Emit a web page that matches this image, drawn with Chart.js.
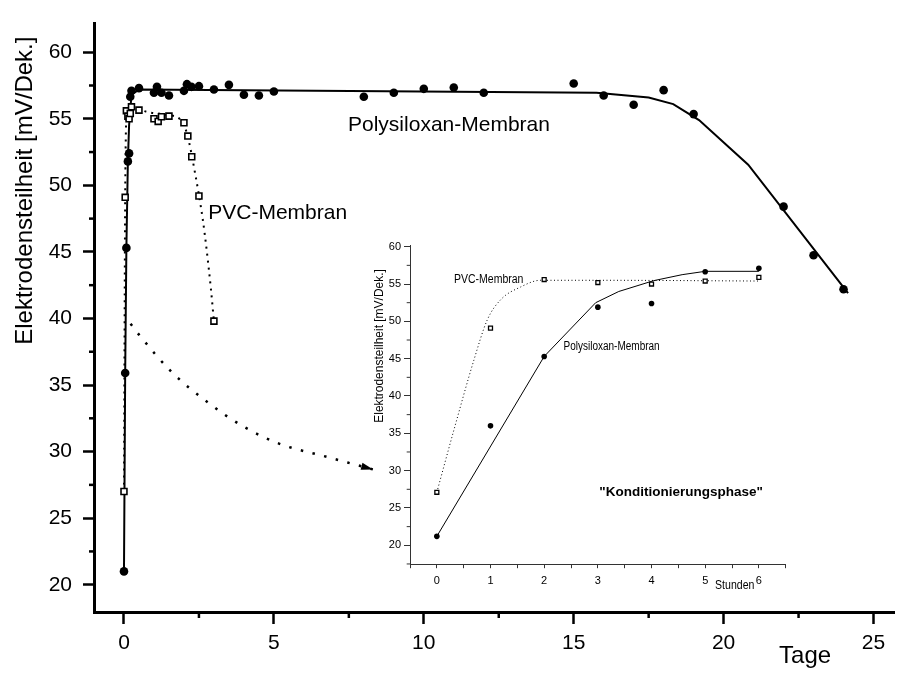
<!DOCTYPE html>
<html>
<head>
<meta charset="utf-8">
<script src="https://cdn.jsdelivr.net/npm/chart.js@4.4.0/dist/chart.umd.min.js"></script>
<style>
  html, body { margin: 0; padding: 0; background: #fff; }
  #wrap { position: relative; width: 900px; height: 673px; }
  #main { position: absolute; left: 0; top: 0; }
  #inset { position: absolute; left: 340px; top: 230px; }
</style>
</head>
<body>
<div id="wrap">
  <canvas id="main" width="900" height="673"></canvas>
  <canvas id="inset" width="460" height="380"></canvas>
</div>
<script>
// Measured slope over time (days), filled circles = Polysiloxan, open squares = PVC
const polyDays  = [0, 0.04, 0.08, 0.13, 0.17, 0.21, 0.25, 0.5, 1.0, 1.1, 1.25, 1.5, 2.0, 2.1, 2.25, 2.5,
                   3.0, 3.5, 4.0, 4.5, 5.0, 8, 9, 10, 11, 12, 15, 16, 17, 18, 19, 22, 23, 24];
const polySlope = [21.0, 35.9, 45.3, 51.8, 52.4, 56.65, 57.1, 57.3, 56.95, 57.4, 56.95, 56.75, 57.1, 57.6, 57.4, 57.45,
                   57.2, 57.55, 56.8, 56.75, 57.05, 56.65, 56.95, 57.25, 57.35, 56.95, 57.65, 56.75, 56.05, 57.15, 55.35, 48.4, 44.75, 42.2];
const pvcDays   = [0, 0.04, 0.08, 0.13, 0.17, 0.21, 0.25, 0.5, 1.0, 1.14, 1.25, 1.5, 2.0, 2.13, 2.26, 2.5, 3.0];
const pvcSlope  = [27.0, 49.1, 55.6, 55.2, 55.0, 55.4, 55.9, 55.65, 55.0, 54.8, 55.15, 55.2, 54.7, 53.7, 52.15, 49.2, 39.8];

// fitted curves
const polyFitDays  = [0, 0.04, 0.08, 0.13, 0.17, 0.25, 0.5, 15.76, 17.5, 18.32, 19.18, 20.82, 24.15];
const polyFitSlope = [21.0, 35.9, 45.3, 51.8, 54.5, 56.8, 57.2, 56.95, 56.6, 56.1, 54.9, 51.55, 41.9];
const pvcFitDays   = [0, 0.04, 0.1, 0.3, 0.8, 1.4, 1.9, 2.1, 2.38, 2.63, 2.76, 2.9, 3.0];
const pvcFitSlope  = [27.0, 49.0, 55.5, 55.8, 55.5, 55.3, 54.9, 53.9, 50.8, 47.4, 45.1, 42.2, 39.8];

// dotted arrow towards the inset
const arrowDays  = [0.22, 0.53, 1.58, 2.79, 3.97, 5.17, 6.77, 8.31];
const arrowSlope = [39.6, 38.7, 36.0, 33.7, 31.9, 30.6, 29.6, 28.66];

// inset: first six hours
const hours        = [0, 1, 2, 3, 4, 5, 6];
const polyHourSlope = [21.2, 36.0, 45.3, 51.9, 52.4, 56.65, 57.1];
const pvcHourSlope  = [27.1, 49.1, 55.6, 55.2, 55.0, 55.4, 55.9];
const polyHourFitX = [0, 2, 2.96, 3.39, 4.04, 4.57, 5, 6];
const polyHourFitY = [21.2, 45.3, 52.5, 54.0, 55.45, 56.25, 56.7, 56.7];
const pvcHourFitX  = [0, 0.32, 0.69, 0.94, 1.19, 1.56, 1.93, 3, 6];
const pvcHourFitY  = [27.1, 35.5, 44.8, 50.2, 52.9, 54.6, 55.5, 55.5, 55.4];

const SANS = '"Liberation Sans", Arial, sans-serif';

const xy = (xs, ys) => xs.map((x, i) => ({ x, y: ys[i] }));

// squeezed text for the small inset labels
function narrowText(ctx, text, x, y, sx) {
  ctx.save();
  ctx.translate(x, y);
  ctx.scale(sx, 1);
  ctx.fillText(text, 0, 0);
  ctx.restore();
}

// short ticks between the labelled ones
const minorTicks = {
  id: 'minorTicks',
  afterDraw(chart, args, opts) {
    const ctx = chart.ctx;
    Object.entries(opts.scales || {}).forEach(([id, o]) => {
      const s = chart.scales[id];
      ctx.save();
      ctx.strokeStyle = o.color;
      ctx.lineWidth = o.width;
      s.ticks.forEach(t => {
        const r = Math.abs(t.value / o.major - Math.round(t.value / o.major));
        if (r < 1e-6) return;
        const p = s.getPixelForValue(t.value);
        ctx.beginPath();
        if (s.isHorizontal()) { ctx.moveTo(p, s.top); ctx.lineTo(p, s.top + o.len); }
        else { ctx.moveTo(s.right, p); ctx.lineTo(s.right - o.len, p); }
        ctx.stroke();
      });
      ctx.restore();
    });
  }
};

// filled head at the end of the dotted arrow
const arrowHead = {
  id: 'arrowHead',
  afterDatasetsDraw(chart, args, opts) {
    const pts = chart.getDatasetMeta(opts.dataset).data;
    const a = pts[pts.length - 2], b = pts[pts.length - 1];
    const ang = Math.atan2(b.y - a.y, b.x - a.x);
    const ctx = chart.ctx;
    ctx.save();
    ctx.translate(b.x, b.y);
    ctx.rotate(ang);
    ctx.fillStyle = '#000';
    ctx.beginPath();
    ctx.moveTo(0, 0);
    ctx.lineTo(-12, -3.6);
    ctx.lineTo(-12, 3.6);
    ctx.closePath();
    ctx.fill();
    ctx.restore();
  }
};

const mainNotes = {
  id: 'mainNotes',
  afterDraw(chart) {
    const { ctx, chartArea: a, scales: { x, y } } = chart;
    ctx.save();
    ctx.fillStyle = '#000';
    ctx.font = '21px ' + SANS;
    ctx.textBaseline = 'middle';
    ctx.textAlign = 'center';
    ctx.fillText('Polysiloxan-Membran', x.getPixelForValue(10.84), y.getPixelForValue(54.5));
    ctx.textAlign = 'left';
    ctx.fillText('PVC-Membran', x.getPixelForValue(2.81), y.getPixelForValue(47.9));
    ctx.font = '24px ' + SANS;
    ctx.textBaseline = 'alphabetic';
    ctx.fillText('Tage', x.getPixelForValue(21.85), a.bottom + 51);
    ctx.translate(a.left - 62, y.getPixelForValue(49.6));
    ctx.rotate(-Math.PI / 2);
    ctx.textAlign = 'center';
    ctx.fillText('Elektrodensteilheit [mV/Dek.]', 0, 0);
    ctx.restore();
  }
};

const insetNotes = {
  id: 'insetNotes',
  afterDraw(chart) {
    const { ctx, chartArea: a, scales: { x, y } } = chart;
    ctx.save();
    ctx.fillStyle = '#000';
    ctx.font = '12.5px ' + SANS;
    ctx.textBaseline = 'middle';
    ctx.textAlign = 'left';
    narrowText(ctx, 'PVC-Membran', x.getPixelForValue(0.32), y.getPixelForValue(55.63), 0.84);
    narrowText(ctx, 'Polysiloxan-Membran', x.getPixelForValue(2.36), y.getPixelForValue(46.6), 0.8);
    ctx.textAlign = 'center';
    ctx.font = '12px ' + SANS;
    narrowText(ctx, 'Stunden', x.getPixelForValue(5.55), a.bottom + 21, 0.88);
    ctx.font = 'bold 13.5px ' + SANS;
    ctx.fillText('"Konditionierungsphase"', x.getPixelForValue(4.55), y.getPixelForValue(27.1));
    ctx.font = '13px ' + SANS;
    ctx.textBaseline = 'alphabetic';
    ctx.translate(a.left - 27, y.getPixelForValue(46.7));
    ctx.rotate(-Math.PI / 2);
    ctx.scale(0.92, 1);
    ctx.fillText('Elektrodensteilheit [mV/Dek.]', 0, 0);
    ctx.restore();
  }
};

const majorOnly = (step, col) => c =>
  (c.tick && Math.abs(c.tick.value / step - Math.round(c.tick.value / step)) < 1e-6) ? col : 'rgba(0,0,0,0)';

new Chart(document.getElementById('main'), {
  type: 'scatter',
  data: {
    datasets: [
      { data: xy(polyDays, polySlope), pointStyle: 'circle', pointRadius: 4.3,
        backgroundColor: '#000', borderColor: '#000', pointBorderWidth: 0 },
      { data: xy(pvcDays, pvcSlope), pointStyle: 'rect', pointRadius: 4.2,
        backgroundColor: '#fff', borderColor: '#000', pointBorderWidth: 1.6 },
      { data: xy(polyFitDays, polyFitSlope), showLine: true, pointRadius: 0,
        borderColor: '#000', borderWidth: 2, tension: 0 },
      { data: xy(pvcFitDays, pvcFitSlope), showLine: true, pointRadius: 0,
        borderColor: '#000', borderWidth: 2, borderDash: [2, 5], cubicInterpolationMode: 'monotone' },
      { data: xy(arrowDays, arrowSlope), showLine: true, pointRadius: 0,
        borderColor: '#000', borderWidth: 2.5, borderDash: [2.5, 9.5], cubicInterpolationMode: 'monotone' }
    ]
  },
  options: {
    responsive: false,
    animation: false,
    events: [],
    layout: { padding: { top: 13, right: 0, left: 0, bottom: 0 } },
    plugins: {
      legend: { display: false },
      tooltip: { enabled: false },
      minorTicks: { scales: {
        x: { major: 5, len: 6, width: 2.5, color: '#000' },
        y: { major: 5, len: 5, width: 2.5, color: '#000' }
      } },
      arrowHead: { dataset: 4 }
    },
    scales: {
      x: {
        type: 'linear', min: -1, max: 25.69,
        afterFit: s => { s.height = 61; },
        border: { color: '#000', width: 3 },
        grid: { drawOnChartArea: false, tickLength: 12, tickWidth: 2.5, tickColor: majorOnly(5, '#000') },
        ticks: { stepSize: 2.5, includeBounds: false, autoSkip: false, maxRotation: 0, padding: 7,
                 color: '#000', font: { family: SANS, size: 21 },
                 callback: v => (v % 5 === 0 ? v : '') }
      },
      y: {
        type: 'linear', min: 17.95, max: 62.15,
        afterFit: s => { s.width = 94; },
        border: { color: '#000', width: 3 },
        grid: { drawOnChartArea: false, tickLength: 11, tickWidth: 2.5, tickColor: majorOnly(5, '#000') },
        ticks: { stepSize: 2.5, includeBounds: false, autoSkip: false, padding: 11,
                 color: '#000', font: { family: SANS, size: 21 },
                 callback: v => (v % 5 === 0 ? v : '') }
      }
    }
  },
  plugins: [minorTicks, arrowHead, mainNotes]
});

new Chart(document.getElementById('inset'), {
  type: 'scatter',
  data: {
    datasets: [
      { data: xy(hours, polyHourSlope), pointStyle: 'circle', pointRadius: 2.8,
        backgroundColor: '#000', borderColor: '#000', pointBorderWidth: 0 },
      { data: xy(hours, pvcHourSlope), pointStyle: 'rect', pointRadius: 2.8,
        backgroundColor: '#fff', borderColor: '#000', pointBorderWidth: 1.3 },
      { data: xy(polyHourFitX, polyHourFitY), showLine: true, pointRadius: 0,
        borderColor: '#000', borderWidth: 1, tension: 0 },
      { data: xy(pvcHourFitX, pvcHourFitY), showLine: true, pointRadius: 0,
        borderColor: '#000', borderWidth: 1, borderDash: [1, 2.5], cubicInterpolationMode: 'monotone' }
    ]
  },
  options: {
    responsive: false,
    animation: false,
    events: [],
    layout: { padding: { top: 15.2, right: 14.3, left: 0, bottom: 0 } },
    plugins: {
      legend: { display: false },
      tooltip: { enabled: false },
      minorTicks: { scales: {
        y: { major: 5, len: 3.3, width: 1, color: '#333' }
      } }
    },
    scales: {
      x: {
        type: 'linear', min: -0.5, max: 6.5,
        afterFit: s => { s.height = 45.3; },
        border: { color: '#333', width: 1 },
        grid: { drawOnChartArea: false, tickLength: 3.5, tickWidth: 1, tickColor: '#333' },
        ticks: { stepSize: 0.5, includeBounds: false, autoSkip: false, maxRotation: 0, padding: 6,
                 color: '#000', font: { family: SANS, size: 11 },
                 callback: v => (Number.isInteger(v) ? v : '') }
      },
      y: {
        type: 'linear', min: 17.4, max: 60.2,
        afterFit: s => { s.width = 70; },
        border: { color: '#333', width: 1 },
        grid: { drawOnChartArea: false, tickLength: 6, tickWidth: 1, tickColor: majorOnly(5, '#333') },
        ticks: { stepSize: 2.5, includeBounds: false, autoSkip: false, padding: 3,
                 color: '#000', font: { family: SANS, size: 11 },
                 callback: v => (v % 5 === 0 ? v : '') }
      }
    }
  },
  plugins: [minorTicks, insetNotes]
});
</script>
</body>
</html>
